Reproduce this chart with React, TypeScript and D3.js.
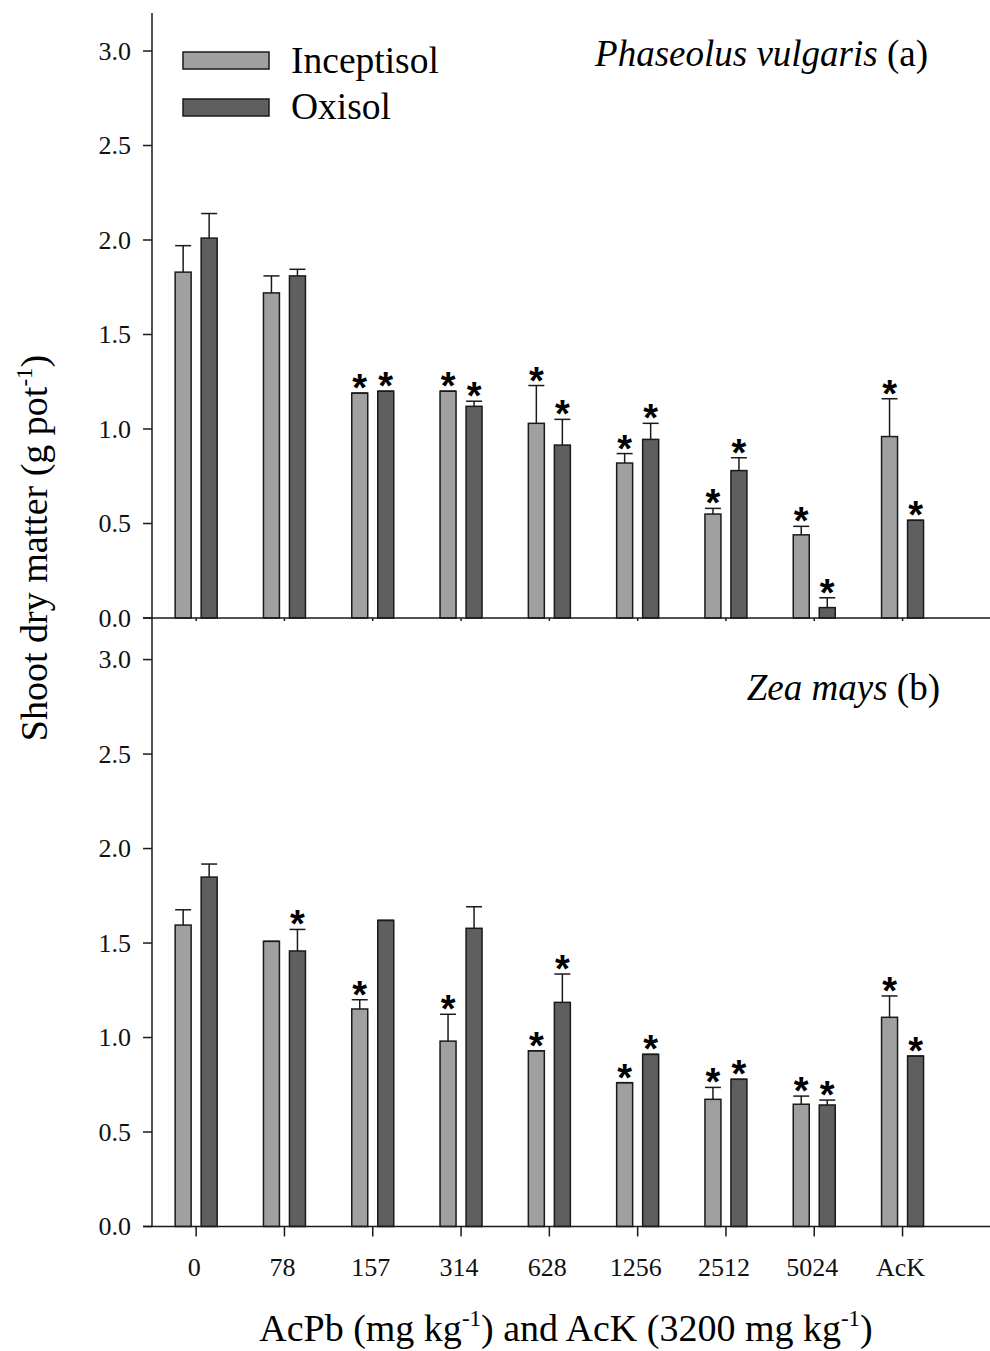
import React from "react";
import * as d3 from "d3";

const categories = ["0", "78", "157", "314", "628", "1256", "2512", "5024", "AcK"];
const soils = ["Inceptisol", "Oxisol"];

// Phaseolus vulgaris (a)
const phaseolusInc = [1.83, 1.72, 1.19, 1.2, 1.03, 0.82, 0.55, 0.44, 0.96];
const phaseolusIncErr = [0.14, 0.09, 0, 0, 0.2, 0.05, 0.03, 0.045, 0.2];
const phaseolusIncSig = [0, 0, 1, 1, 1, 1, 1, 1, 1];
const phaseolusOx = [2.01, 1.81, 1.2, 1.12, 0.915, 0.945, 0.78, 0.055, 0.517];
const phaseolusOxErr = [0.13, 0.035, 0, 0.027, 0.136, 0.085, 0.068, 0.052, 0];
const phaseolusOxSig = [0, 0, 1, 1, 1, 1, 1, 1, 1];

// Zea mays (b)
const zeaInc = [1.595, 1.509, 1.151, 0.981, 0.93, 0.761, 0.673, 0.647, 1.107];
const zeaIncErr = [0.081, 0, 0.049, 0.142, 0, 0, 0.063, 0.043, 0.113];
const zeaIncSig = [0, 0, 1, 1, 1, 1, 1, 1, 1];
const zeaOx = [1.849, 1.458, 1.62, 1.578, 1.186, 0.911, 0.779, 0.643, 0.902];
const zeaOxErr = [0.069, 0.114, 0, 0.114, 0.15, 0, 0, 0.026, 0];
const zeaOxSig = [0, 1, 0, 0, 1, 1, 1, 1, 1];

const yTicks = [0, 0.5, 1.0, 1.5, 2.0, 2.5, 3.0];

const W = 990;
const H = 1351;
const axisX = 152;
const serif = "'Liberation Serif', 'Times New Roman', serif";
const sans = "'Liberation Sans', Arial, sans-serif";
const colors: Record<string, string> = { Inceptisol: "#a0a0a0", Oxisol: "#5f5f5f" };
const strokeCol = "#1a1a1a";

const x = d3.scaleBand<string>().domain(categories).range([axisX, axisX + 88.3 * 9]).padding(0);
const inner = d3.scaleBand<string>().domain(soils).range([-21, 21]).paddingInner(0.385).paddingOuter(0);

type Series = { soil: string; values: number[]; err: number[]; sig: number[] };

function Panel({
  series,
  y,
  bottomTickLen,
}: {
  series: Series[];
  y: d3.ScaleLinear<number, number>;
  bottomTickLen: number;
}) {
  const y0 = y(0);
  return (
    <g>
      {series.map((s) =>
        categories.map((c, i) => {
          const cx = (x(c) as number) + x.bandwidth() / 2;
          const bx = cx + (inner(s.soil) as number);
          const bw = inner.bandwidth();
          const v = s.values[i];
          const top = y(v);
          const errTop = y(v + s.err[i]);
          const mid = bx + bw / 2;
          return (
            <g key={s.soil + c}>
              <rect x={bx} y={top} width={bw} height={y0 - top} fill={colors[s.soil]} stroke={strokeCol} strokeWidth={1.5} />
              <line x1={mid} x2={mid} y1={top} y2={errTop} stroke={strokeCol} strokeWidth={1.5} />
              <line x1={bx} x2={bx + bw} y1={errTop} y2={errTop} stroke={strokeCol} strokeWidth={1.5} />
              {s.sig[i] ? (
                <text x={mid} y={errTop + 8} textAnchor="middle" fontFamily={sans} fontWeight="bold" fontSize={38} fill="#000">
                  *
                </text>
              ) : null}
            </g>
          );
        })
      )}
      {/* x axis line */}
      <line x1={axisX - 9} x2={W} y1={y0} y2={y0} stroke={strokeCol} strokeWidth={1.5} />
      {categories.map((c) => {
        const cx = (x(c) as number) + x.bandwidth() / 2;
        return <line key={"xt" + c} x1={cx} x2={cx} y1={y0} y2={y0 + bottomTickLen} stroke={strokeCol} strokeWidth={1.5} />;
      })}
      {/* y ticks */}
      {yTicks.map((t) => (
        <g key={"yt" + t}>
          <line x1={axisX - 9} x2={axisX} y1={y(t)} y2={y(t)} stroke={strokeCol} strokeWidth={1.5} />
          <text x={131} y={y(t) + 8.5} textAnchor="end" fontFamily={serif} fontSize={26} fill="#111">
            {d3.format(".1f")(t)}
          </text>
        </g>
      ))}
    </g>
  );
}

export default function App() {
  const yTop = d3.scaleLinear().domain([0, 3.2]).range([618, 13.2]);
  const yBot = d3.scaleLinear().domain([0, 3.22]).range([1226.5, 618]);

  const topSeries: Series[] = [
    { soil: "Inceptisol", values: phaseolusInc, err: phaseolusIncErr, sig: phaseolusIncSig },
    { soil: "Oxisol", values: phaseolusOx, err: phaseolusOxErr, sig: phaseolusOxSig },
  ];
  const botSeries: Series[] = [
    { soil: "Inceptisol", values: zeaInc, err: zeaIncErr, sig: zeaIncSig },
    { soil: "Oxisol", values: zeaOx, err: zeaOxErr, sig: zeaOxSig },
  ];

  return (
    <svg width={W} height={H} style={{ position: "absolute", left: 0, top: 0, background: "#fff" }}>
      <rect x={0} y={0} width={W} height={H} fill="#fff" />
      {/* y axis line */}
      <line x1={axisX} x2={axisX} y1={13} y2={1227} stroke={strokeCol} strokeWidth={1.5} />
      <Panel series={topSeries} y={yTop} bottomTickLen={3} />
      <Panel series={botSeries} y={yBot} bottomTickLen={10} />

      {/* x tick labels */}
      {categories.map((c) => {
        const cx = (x(c) as number) + x.bandwidth() / 2;
        return (
          <text key={"xl" + c} x={cx - 2} y={1276} textAnchor="middle" fontFamily={serif} fontSize={26} fill="#111">
            {c}
          </text>
        );
      })}

      {/* legend */}
      {soils.map((s, i) => (
        <g key={"lg" + s}>
          <rect x={183} y={52 + i * 47} width={86} height={17} fill={colors[s]} stroke={strokeCol} strokeWidth={1.5} />
          <text x={291} y={73 + i * 46} fontFamily={serif} fontSize={37.5} fill="#000">
            {s}
          </text>
        </g>
      ))}

      {/* panel labels */}
      <text x={928} y={66} textAnchor="end" fontFamily={serif} fontSize={37} fill="#000">
        <tspan fontStyle="italic">Phaseolus vulgaris</tspan> (a)
      </text>
      <text x={940} y={700} textAnchor="end" fontFamily={serif} fontSize={37} fill="#000">
        <tspan fontStyle="italic">Zea mays</tspan> (b)
      </text>

      {/* y axis title */}
      <text transform="translate(47,548) rotate(-90)" textAnchor="middle" fontFamily={serif} fontSize={38} fill="#000">
        Shoot dry matter (g pot
        <tspan fontSize={23} dy={-15}>-1</tspan>
        <tspan dy={15}>)</tspan>
      </text>

      {/* x axis title */}
      <text x={566} y={1341} textAnchor="middle" fontFamily={serif} fontSize={38} fill="#000">
        AcPb (mg kg
        <tspan fontSize={23} dy={-15}>-1</tspan>
        <tspan dy={15}>) and AcK (3200 mg kg</tspan>
        <tspan fontSize={23} dy={-15}>-1</tspan>
        <tspan dy={15}>)</tspan>
      </text>
    </svg>
  );
}
